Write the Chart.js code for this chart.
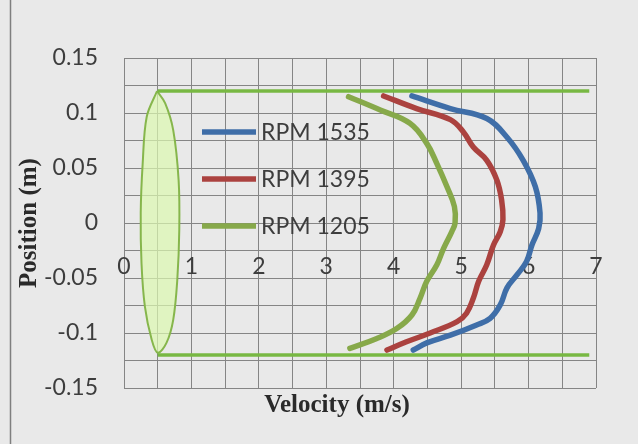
<!DOCTYPE html>
<html><head><meta charset="utf-8">
<script src="https://cdn.jsdelivr.net/npm/chart.js@4.4.0/dist/chart.umd.min.js"></script>
<style>html,body{margin:0;padding:0;background:#fff}#wrap{width:638px;height:444px;position:relative}</style>
</head><body><div id="wrap"><canvas id="c" width="638" height="444"></canvas></div>
<script>
// ---- data ----
const seriesLabels = ['RPM 1535', 'RPM 1395', 'RPM 1205'];
const rpm1535Vel = [4.27, 4.84, 5.38, 5.68, 5.92, 6.10, 6.17, 6.15, 6.05, 5.97, 5.83, 5.68, 5.58, 5.43, 5.23, 4.84, 4.49, 4.29];
const rpm1535Pos = [0.1155, 0.104, 0.095, 0.078, 0.057, 0.033, 0.009, -0.005, -0.020, -0.035, -0.047, -0.059, -0.0745, -0.0867, -0.0927, -0.102, -0.109, -0.1155];
const rpm1395Vel = [3.85, 4.34, 4.84, 5.03, 5.18, 5.38, 5.53, 5.60, 5.62, 5.58, 5.48, 5.38, 5.26, 5.18, 5.08, 4.94, 4.54, 4.19, 3.90];
const rpm1395Pos = [0.1155, 0.104, 0.094, 0.083, 0.069, 0.057, 0.039, 0.021, 0.003, -0.008, -0.020, -0.038, -0.053, -0.0685, -0.082, -0.0897, -0.100, -0.108, -0.1155];
const rpm1205Vel = [3.33, 3.80, 4.24, 4.49, 4.64, 4.79, 4.90, 4.91, 4.86, 4.74, 4.64, 4.49, 4.39, 4.27, 4.05, 3.75, 3.35];
const rpm1205Pos = [0.1148, 0.1027, 0.0906, 0.0724, 0.054, 0.033, 0.015, 0.0, -0.008, -0.023, -0.038, -0.053, -0.0685, -0.0836, -0.0957, -0.105, -0.114];
// pipe walls
const wallVel = [0.5, 6.9];
const wallTopPos = [0.12, 0.12];
const wallBottomPos = [-0.12, -0.12];
// lens-shaped profile outline
const lensVel = [0.49, 0.61, 0.73, 0.81, 0.82, 0.79, 0.73, 0.63, 0.50, 0.41, 0.31, 0.26, 0.248, 0.277, 0.337, 0.49];
const lensPos = [0.12, 0.109, 0.0845, 0.039, -0.006, -0.052, -0.088, -0.109, -0.118, -0.106, -0.076, -0.037, 0.009, 0.054, 0.0966, 0.12];
// tick labels
const xTickLabels = ['0', '1', '2', '3', '4', '5', '6', '7'];
const yTickLabels = ['-0.15', '-0.1', '-0.05', '0', '0.05', '0.1', '0.15'];
const xTitle = 'Velocity (m/s)';
const yTitle = 'Position (m)';

const seriesColors = ['#3f6ea8', '#ab423f', '#87a94a'];
const wallColor = '#78b843';

const pts = (xs, ys) => xs.map((v, i) => ({x: v, y: ys[i]}));

const seriesVel = [rpm1535Vel, rpm1395Vel, rpm1205Vel];
const seriesPos = [rpm1535Pos, rpm1395Pos, rpm1205Pos];

const datasets = [];
datasets.push({label: 'lens', data: pts(lensVel, lensPos), showLine: true, borderColor: '#86b64c', borderWidth: 2,
  backgroundColor: 'rgba(220,248,175,0.7)', fill: 'shape', tension: 0.35, pointRadius: 0, order: 5});
datasets.push({label: 'wall top', data: pts(wallVel, wallTopPos), showLine: true, borderColor: wallColor, borderWidth: 3.5, pointRadius: 0, order: 4});
datasets.push({label: 'wall bottom', data: pts(wallVel, wallBottomPos), showLine: true, borderColor: wallColor, borderWidth: 3.5, pointRadius: 0, order: 4});
seriesLabels.forEach((lab, i) => {
  datasets.push({label: lab, data: pts(seriesVel[i], seriesPos[i]), showLine: true, borderColor: seriesColors[i],
    borderWidth: 5.5, pointRadius: 0, tension: 0.4, borderCapStyle: 'round', fill: false, order: 1, isSeries: true});
});

const tickFont = {family: 'Lato', size: 23};
const textColor = '#3d3d3d';

const decor = {
  id: 'decor',
  beforeDraw(chart) {
    const ctx = chart.ctx;
    ctx.save();
    ctx.fillStyle = '#e9e9e9';
    ctx.fillRect(0, 0, chart.width, chart.height);
    ctx.strokeStyle = '#7f7f7f';
    ctx.lineWidth = 1.5;
    ctx.beginPath(); ctx.moveTo(10.5, 0); ctx.lineTo(10.5, chart.height); ctx.stroke();
    ctx.restore();
  },
  afterDraw(chart) {
    const ctx = chart.ctx;
    const a = chart.chartArea;
    ctx.save();
    // legend (inside plot area)
    const lx = a.left + 78, ly0 = a.top + 74, gap = 47;
    ctx.font = '23px Lato';
    ctx.textBaseline = 'middle';
    ctx.textAlign = 'left';
    chart.data.datasets.filter(d => d.isSeries).forEach((d, i) => {
      const y = ly0 + i * gap;
      ctx.strokeStyle = d.borderColor; ctx.lineWidth = 5.5; ctx.lineCap = 'butt';
      ctx.beginPath(); ctx.moveTo(lx, y); ctx.lineTo(lx + 54, y); ctx.stroke();
      ctx.fillStyle = textColor;
      ctx.fillText(d.label, lx + 59, y + 1);
    });
    // x axis title
    ctx.font = 'bold 25px "Liberation Serif"';
    ctx.fillStyle = '#2a2a2a';
    ctx.textAlign = 'center';
    ctx.fillText(xTitle, 337, 406);
    ctx.restore();
  }
};

new Chart(document.getElementById('c'), {
  type: 'scatter',
  data: {datasets},
  options: {
    responsive: false, animation: false,
    layout: {padding: {left: 10, right: 42, top: 58, bottom: 56}},
    plugins: {legend: {display: false}, tooltip: {enabled: false}},
    scales: {
      x: {
        type: 'linear', position: {y: 0}, min: 0, max: 7,
        grid: {color: '#858585', lineWidth: 1, drawTicks: false},
        border: {display: false},
        ticks: {stepSize: 0.5, padding: 30, color: textColor, font: tickFont, maxRotation: 0, autoSkip: false,
          callback: v => { const l = xTickLabels.find(s => Math.abs(parseFloat(s) - v) < 1e-6); return l === undefined ? '' : l; }}
      },
      y: {
        type: 'linear', position: 'left', min: -0.15, max: 0.15,
        afterFit: s => { s.width = 114; },
        grid: {color: '#858585', lineWidth: 1, drawTicks: false},
        border: {display: false},
        ticks: {stepSize: 0.025, padding: 26, color: textColor, font: tickFont, autoSkip: false,
          callback: v => { const l = yTickLabels.find(s => Math.abs(parseFloat(s) - v) < 1e-6); return l === undefined ? '' : l; }},
        title: {display: true, text: yTitle, color: '#2a2a2a', font: {family: 'Liberation Serif', size: 25, weight: 'bold'}, padding: {top: 5, bottom: 0}}
      }
    }
  },
  plugins: [decor]
});
</script></body></html>
